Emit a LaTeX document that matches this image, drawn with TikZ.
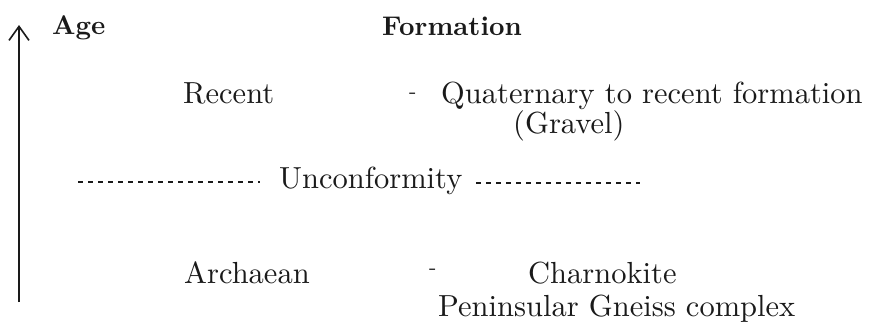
\documentclass[tikz,border=0pt]{standalone}
\usepackage{fontspec}
\setmainfont{lmroman10-regular}[Extension=.otf,BoldFont=lmroman10-bold]
\usetikzlibrary{arrows.meta}
\definecolor{ink}{HTML}{1A1A1A}
\begin{document}
\begin{tikzpicture}[x=1pt,y=-1pt,
  lbl/.style={anchor=base west,inner sep=0pt,text=ink,font=\fontsize{30.5}{36}\selectfont},
  head/.style={anchor=base west,inner sep=0pt,text=ink,font=\fontsize{27}{32}\selectfont\bfseries},
  sep/.style={anchor=base west,inner sep=0pt,text=ink,font=\fontsize{22}{26}\selectfont},
  dotline/.style={draw=ink,line width=2pt,dash pattern=on 5pt off 5pt},
  axis/.style={draw=ink,line width=1.6pt,-{Straight Barb[length=14pt,width=20pt]}}]
\useasboundingbox (0,0) rectangle (869,327);
% axis arrow
\coordinate (abot) at (19,302);
\coordinate (atop) at (19,25);
\draw[axis] (abot) -- (atop);
% headings
\node[head] (age) at (52,34) {Age};
\node[head] (form) at (382,35) {Formation};
% recent
\node[lbl] (recent) at (183,103) {Recent};
\node[sep] (d1) at (409,98.5) {-};
\node[lbl] (quat) at (441,103) {Quaternary to recent formation};
\node[lbl] (grav) at (513,133) {(Gravel)};
% unconformity
\node[lbl] (unc) at (279,188) {Unconformity};
\coordinate (l1) at (78,182);
\coordinate (l2) at (260,182);
\coordinate (r1) at (476,183);
\coordinate (r2) at (640,183);
\draw[dotline] (l1) -- (l2);
\draw[dotline] (r1) -- (r2);
% archaean
\node[lbl] (arch) at (184,283) {Archaean};
\node[sep] (d2) at (429,274) {-};
\node[lbl] (charn) at (528,283) {Charnokite};
\node[lbl] (pen) at (438,316) {Peninsular Gneiss complex};
\end{tikzpicture}
\end{document}
